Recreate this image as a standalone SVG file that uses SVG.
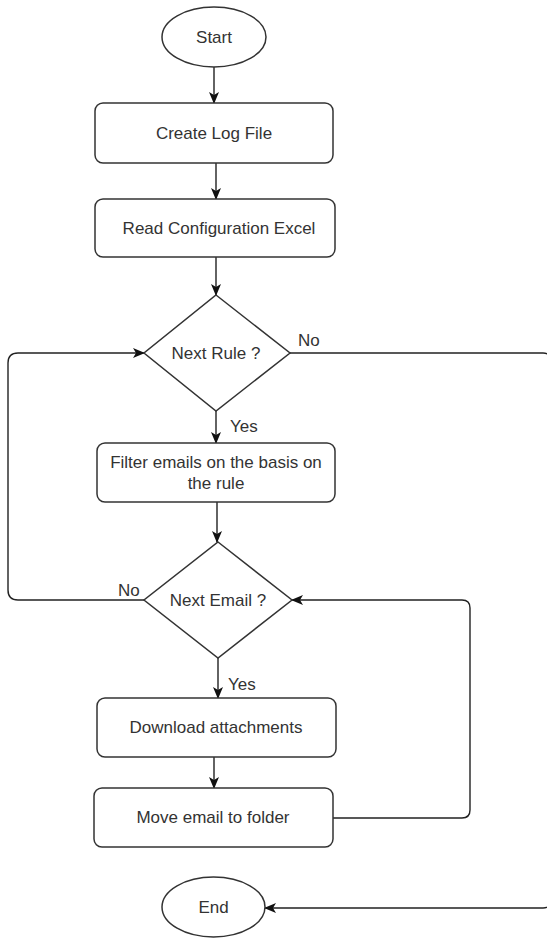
<svg xmlns="http://www.w3.org/2000/svg" width="547" height="938" viewBox="0 0 547 938">
<style>
.shape{fill:#fff;stroke:#333;stroke-width:1.5}
.edge{fill:none;stroke:#222;stroke-width:1.4}
.t{font-family:"Liberation Sans",Arial,sans-serif;font-size:17px;fill:#333;text-anchor:middle}
.lbl{font-family:"Liberation Sans",Arial,sans-serif;font-size:17px;fill:#333}
</style>
<defs>
<marker id="arr" markerUnits="userSpaceOnUse" markerWidth="12" markerHeight="12" viewBox="0 0 12 10" refX="11" refY="5" orient="auto">
<path d="M0,0 L12,5 L0,10 L3,5 Z" fill="#111"/>
</marker>
</defs>
<rect width="547" height="938" fill="#fff"/>
<g id="connectors">
<path class="edge" d="M214,67 L214,103" marker-end="url(#arr)"/>
<path class="edge" d="M216,163 L216,199" marker-end="url(#arr)"/>
<path class="edge" d="M216,257 L216,295" marker-end="url(#arr)"/>
<path class="edge" d="M216,411 L216,443" marker-end="url(#arr)"/>
<path class="edge" d="M217,502 L217,542" marker-end="url(#arr)"/>
<path class="edge" d="M218,658 L218,698" marker-end="url(#arr)"/>
<path class="edge" d="M214,757 L214,788" marker-end="url(#arr)"/>
<path class="edge" d="M144,600 L18,600 Q8,600 8,590 L8,363 Q8,353 18,353 L144,353" marker-end="url(#arr)"/>
<path class="edge" d="M290,353 L543,353 Q551,353 551,361 L551,900 Q551,908 543,908 L265,908" marker-end="url(#arr)"/>
<path class="edge" d="M333,818 L462,818 Q470,818 470,810 L470,608 Q470,600 462,600 L292,600" marker-end="url(#arr)"/>
</g>
<g id="start">
<ellipse class="shape" cx="214" cy="37" rx="52" ry="30"/>
<text class="t" x="214" y="43">Start</text>
</g>
<g id="create-log">
<rect class="shape" x="95" y="103" width="238" height="60" rx="8"/>
<text class="t" x="214" y="139">Create Log File</text>
</g>
<g id="read-config">
<rect class="shape" x="95" y="199" width="240" height="58" rx="8"/>
<text class="t" x="219" y="234">Read Configuration Excel</text>
</g>
<g id="next-rule">
<polygon class="shape" points="216,295 290,353 216,411 144,353"/>
<text class="t" x="216" y="359">Next Rule ?</text>
<text class="lbl" x="298" y="346">No</text>
<text class="lbl" x="230" y="432">Yes</text>
</g>
<g id="filter">
<rect class="shape" x="97" y="443" width="238" height="59" rx="8"/>
<text class="t" x="216" y="468">Filter emails on the basis on</text>
<text class="t" x="216" y="489">the rule</text>
</g>
<g id="next-email">
<polygon class="shape" points="218,542 292,600 218,658 144,600"/>
<text class="t" x="218" y="606">Next Email ?</text>
<text class="lbl" x="118" y="596">No</text>
<text class="lbl" x="228" y="690">Yes</text>
</g>
<g id="download">
<rect class="shape" x="97" y="698" width="239" height="59" rx="8"/>
<text class="t" x="216" y="733">Download attachments</text>
</g>
<g id="move">
<rect class="shape" x="94" y="788" width="239" height="59" rx="8"/>
<text class="t" x="213" y="823">Move email to folder</text>
</g>
<g id="end">
<ellipse class="shape" cx="213.5" cy="907" rx="51.5" ry="30"/>
<text class="t" x="213.5" y="913">End</text>
</g>
</svg>
